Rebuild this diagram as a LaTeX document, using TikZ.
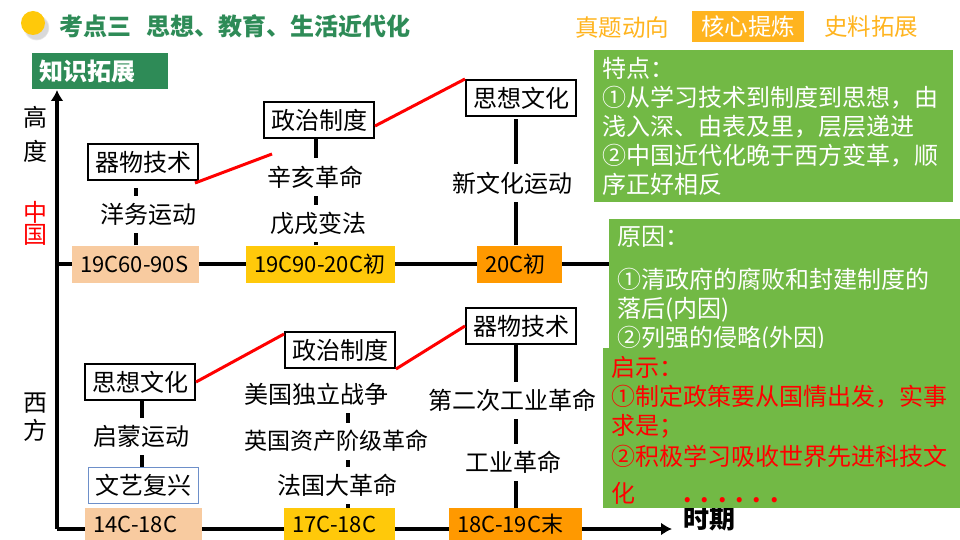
\documentclass[tikz,border=0pt]{standalone}
\usepackage{fontspec}
\setmainfont{Noto Sans CJK SC}
\usetikzlibrary{arrows.meta,backgrounds,shadows}
\definecolor{titlegreen}{HTML}{2E8B57}
\definecolor{panelgreen}{HTML}{72B945}
\definecolor{tabgold}{HTML}{FFB41F}
\definecolor{peach}{HTML}{F8CBA0}
\definecolor{amber}{HTML}{FFC90A}
\definecolor{deeporange}{HTML}{FF9900}
\definecolor{paleblue}{HTML}{6D8FC9}
\tikzset{
  stage/.style={draw=black,line width=2pt,fill=white,minimum width=110pt,minimum height=36pt,inner sep=0pt,font=\fontsize{24}{24}\selectfont},
  event/.style={fill=white,inner xsep=0pt,inner ysep=0pt,minimum height=37pt,font=\fontsize{24}{24}\selectfont},
  period/.style={anchor=west,minimum height=37pt,inner ysep=0pt,inner xsep=8pt,align=left,font=\fontsize{22}{22}\selectfont},
  panel/.style={anchor=north west,fill=panelgreen,inner sep=0pt},
  paneltext/.style={anchor=north west,inner sep=0pt,align=left,font=\fontsize{24}{29}\selectfont},
  axisline/.style={line width=4pt,-{Latex[length=11pt,width=13pt]}},
  baseline/.style={line width=4pt},
  stem/.style={line width=4pt},
  relation/.style={red,line width=3pt},
  axislabel/.style={inner sep=0pt,font=\fontsize{24}{24}\selectfont},
  tab/.style={inner sep=0pt,text=tabgold,font=\fontsize{23.5}{24}\selectfont}
}
\begin{document}
\begin{tikzpicture}[x=1pt,y=-1pt]
  \useasboundingbox (0,0) rectangle (960,540);
  \node[circle,fill=amber,minimum size=24pt,inner sep=0pt,circular drop shadow={shadow xshift=3pt,shadow yshift=-4pt,opacity=.3}] (dot) at (33,23) {};
  \node[anchor=west,inner sep=0pt,text=titlegreen,font=\fontsize{24}{24}\selectfont\bfseries] (title) at (59,26) {考点三\hspace{15pt}思想、教育、生活近代化};
  \node[tab] (zhenti) at (622,28) {真题动向};
  \node[tab,fill=tabgold,text=white,minimum width=112pt,minimum height=31pt] (hexin) at (748,27) {核心提炼};
  \node[tab] (shiliao) at (871,27) {史料拓展};
  \node[anchor=north west,fill=titlegreen,text=white,minimum width=136pt,minimum height=36pt,inner xsep=7pt,inner ysep=0pt,align=left,text width=122pt,font=\fontsize{24}{24}\selectfont\bfseries] (zhishi) at (32,53) {知识拓展};

  \node[axislabel] (gao) at (35,117) {高};
  \node[axislabel] (du) at (35,151) {度};
  \node[axislabel,text=red] (zhong) at (35,212) {中};
  \node[axislabel,text=red] (guo) at (35,235) {国};
  \node[axislabel] (xi) at (35,403) {西};
  \node[axislabel] (fang) at (35,430) {方};
  \coordinate (origin) at (57,529);
  \coordinate (top) at (57,90);
  \coordinate (cnstart) at (57,264);
  \coordinate (timeend) at (672,529);

  \node[period,fill=peach,minimum width=127pt,text width=111pt] (cnA) at (72,264) {19C60-90S};
  \node[period,fill=amber,minimum width=149pt,text width=133pt] (cnB) at (246,264) {19C90-20C初};
  \node[period,fill=deeporange,minimum width=85pt,text width=69pt] (cnC) at (477,264) {20C初};
  \node[period,fill=peach,minimum width=117pt,text width=101pt,minimum height=32pt] (wsA) at (85,524) {14C-18C};
  \node[period,fill=amber,minimum width=111pt,text width=95pt,minimum height=32pt] (wsB) at (284,524) {17C-18C};
  \node[period,fill=deeporange,minimum width=133pt,text width=117pt,minimum height=32pt] (wsC) at (449,524) {18C-19C末};

  \node[stage] (cnTech) at (143,162) {器物技术};
  \node[stage] (cnPol) at (319,120) {政治制度};
  \node[stage] (cnCul) at (521,98) {思想文化};
  \node[stage] (wsCul) at (140,382) {思想文化};
  \node[stage] (wsPol) at (340,350) {政治制度};
  \node[stage] (wsTech) at (521,326) {器物技术};
  \node[stage,draw=paleblue,line width=1pt] (wsRen) at (143,485) {文艺复兴};

  \node[event] (yangwu) at (148,214) {洋务运动};
  \node[event] (xinhai) at (315,177) {辛亥革命};
  \node[event] (wuxu) at (318,223) {戊戌变法};
  \node[event] (xinwen) at (512,183) {新文化运动};
  \node[event] (qimeng) at (141,436) {启蒙运动};
  \node[event] (meiguo) at (316,394) {美国独立战争};
  \node[event,font=\fontsize{23}{23}\selectfont] (yingguo) at (336,441) {英国资产阶级革命};
  \node[event] (faguo) at (337,485) {法国大革命};
  \node[event] (second) at (512,400) {第二次工业革命};
  \node[event] (gongye) at (513,462) {工业革命};
  \node[inner sep=0pt,font=\fontsize{26}{26}\selectfont\bfseries] (shiqi) at (709,519) {时期};

  \node[panel,minimum width=359pt,minimum height=152pt] (tedian) at (594,50) {};
  \node[paneltext,text=white,text width=345pt] (tediantext) at (602,57) {特点：\\①从学习技术到制度到思想，由\\浅入深、由表及里，层层递进\\②中国近代化晚于西方变革，顺\\序正好相反};
  \node[panel,minimum width=351pt,minimum height=132pt] (yuanyin) at (609,219) {};
  \node[paneltext,text=white,text width=340pt] (yuanyintext) at (617,226) {原因：\\[14pt]①清政府的腐败和封建制度的\\落后(内因)\\②列强的侵略(外因)};
  \node[panel,minimum width=357pt,minimum height=160pt] (qishi) at (603,348) {};
  \node[paneltext,text=red,text width=350pt] (qishitext) at (611,356) {启示：\\①制定政策要从国情出发，实事\\求是；\\[2pt]②积极学习吸收世界先进科技文\\[8pt]化\hspace{48pt}\textbf{.\hspace{9pt}.\hspace{9pt}.\hspace{9pt}.\hspace{9pt}.\hspace{9pt}.}};

  \begin{scope}[on background layer]
    \draw[axisline] (origin) -- (top);
    \draw[baseline] (cnstart) -- (cnA);
    \draw[baseline] (cnA) -- (cnB);
    \draw[baseline] (cnB) -- (cnC);
    \draw[baseline] (cnC) -- (yuanyin.west |- cnC);
    \draw[baseline] (origin) -- (timeend -| wsA.west);
    \draw[baseline] (timeend -| wsA.east) -- (timeend -| wsB.west);
    \draw[baseline] (timeend -| wsB.east) -- (timeend -| wsC.west);
    \draw[axisline] (timeend -| wsC.east) -- (timeend);
    \draw[stem,shorten >=7pt] (cnA.north) -- (cnA.north |- cnTech.south);
    \draw[stem] ([xshift=-4.5pt]cnB.north) -- ([xshift=-4.5pt]cnB.north |- cnPol.south);
    \draw[stem,shorten >=2pt] ([xshift=-3.5pt]cnC.north) -- ([xshift=-3.5pt]cnC.north |- cnCul.south);
    \draw[stem] ([xshift=2pt]wsCul.south) -- ([xshift=2pt]wsCul.south |- wsRen.north);
    \draw[stem] ([xshift=8.5pt]wsB.north) -- ([xshift=8.5pt]wsB.north |- meiguo);
    \draw[stem] (wsC.north) -- (wsC.north |- wsTech.south);
  \end{scope}

  \draw[relation] ([shift={(-4,2)}]cnTech.south east) -- (272,154);
  \draw[relation] (cnPol.east) ++(0,6) -- (cnCul.north west);
  \draw[relation] (wsCul.east) -- ([yshift=-3pt]wsPol.north west);
  \draw[relation] (wsPol.south east) -- (wsTech.west);
\end{tikzpicture}
\end{document}
